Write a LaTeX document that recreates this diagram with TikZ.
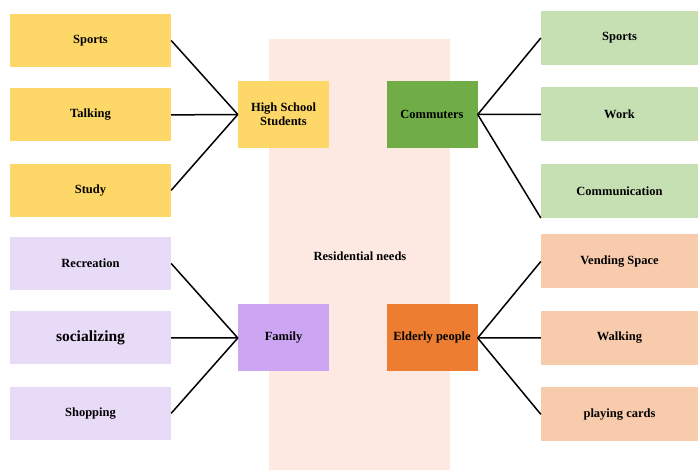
\documentclass[tikz,border=0pt]{standalone}
\usepackage{fontspec}
\setmainfont{Liberation Serif}
\usetikzlibrary{positioning}
\definecolor{sunyellow}{HTML}{FDD767}
\definecolor{leafgreen}{HTML}{70AD47}
\definecolor{palegreen}{HTML}{C6E0B4}
\definecolor{lilac}{HTML}{CCA6F2}
\definecolor{palelilac}{HTML}{E8DBF8}
\definecolor{deeporange}{HTML}{ED7D31}
\definecolor{paleorange}{HTML}{F8CBAD}
\definecolor{blush}{HTML}{FDE9E2}

\begin{document}
\begin{tikzpicture}[
        x=1pt, y=1pt,
        leaf/.style={rectangle, minimum width=161pt, minimum height=53pt, align=center, font=\fontsize{12.5}{14}\selectfont\bfseries},
        hub/.style={rectangle, minimum width=91pt, minimum height=67pt, align=center, font=\fontsize{12.5}{14}\selectfont\bfseries, inner sep=2pt},
        link/.style={line width=1.5pt, black}
    ]
        \useasboundingbox (0,0) rectangle (698,470);
        % middle band
        \fill[blush] (269,0) rectangle (450,431);
        \node[font=\fontsize{12.5}{14}\selectfont\bfseries] (needs) at (360,214) {Residential needs};

        % hubs
        \node[hub, fill=sunyellow] (students) at (283.5,355.5) {High School\\Students};
        \node[hub, fill=leafgreen] (commuters) at (432,355.5) {Commuters};
        \node[hub, fill=lilac] (family) at (283.5,132) {Family};
        \node[hub, fill=deeporange] (elderly) at (432,132) {Elderly people};

        % left side
        \node[leaf, fill=sunyellow] (sportsL) at (90.5,429.5) {Sports};
        \node[leaf, fill=sunyellow, below=21pt of sportsL] (talking) {Talking};
        \node[leaf, fill=sunyellow, below=22pt of talking] (study) {Study};
        \node[leaf, fill=palelilac] (recreation) at (90.5,206.5) {Recreation};
        \node[leaf, fill=palelilac, below=21pt of recreation, font=\fontsize{15.5}{17}\selectfont\bfseries] (socializing) {socializing};
        \node[leaf, fill=palelilac, below=22pt of socializing] (shopping) {Shopping};

        % right side
        \node[leaf, fill=palegreen, minimum width=157pt, minimum height=54pt] (sportsR) at (619.5,432) {Sports};
        \node[leaf, fill=palegreen, minimum width=157pt, minimum height=54pt, below=22pt of sportsR] (work) {Work};
        \node[leaf, fill=palegreen, minimum width=157pt, minimum height=54pt, below=22pt of work] (communication) {Communication};
        \node[leaf, fill=paleorange, minimum width=157pt, minimum height=54pt] (vending) at (619.5,208.5) {Vending Space};
        \node[leaf, fill=paleorange, minimum width=157pt, minimum height=54pt, below=22pt of vending] (walking) {Walking};
        \node[leaf, fill=paleorange, minimum width=157pt, minimum height=54pt, below=22pt of walking] (cards) {playing cards};

        % connectors
        \draw[link] (sportsL.east) -- (students.west);
        \draw[link] (talking.east) -- (students.west);
        \draw[link] (study.east) -- (students.west);
        \draw[link] (recreation.east) -- (family.west);
        \draw[link] (socializing.east) -- (family.west);
        \draw[link] (shopping.east) -- (family.west);
        \draw[link] (commuters.east) -- (sportsR.west);
        \draw[link] (commuters.east) -- (work.west);
        \draw[link] (commuters.east) -- (communication.south west);
        \draw[link] (elderly.east) -- (vending.west);
        \draw[link] (elderly.east) -- (walking.west);
        \draw[link] (elderly.east) -- (cards.west);
    \end{tikzpicture}
\end{document}
